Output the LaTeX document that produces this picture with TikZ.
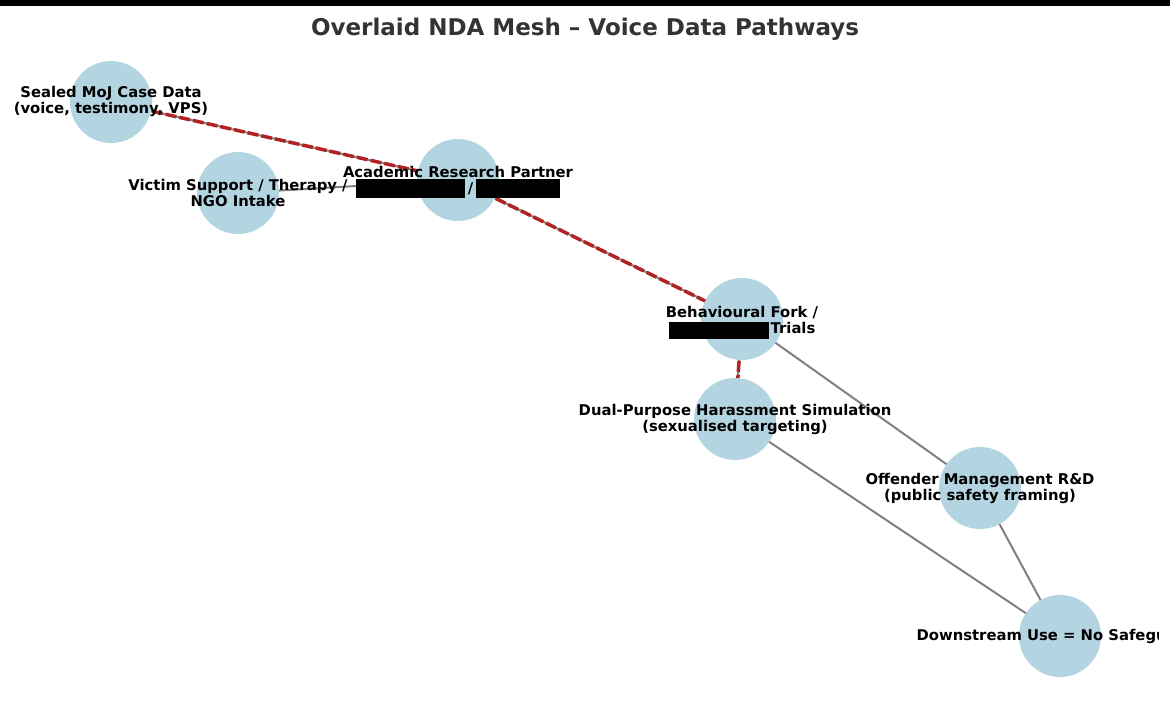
\documentclass[tikz,border=0pt]{standalone}
\usepackage{fontspec}
\setmainfont{DejaVu Sans}
\definecolor{nodeblue}{RGB}{179,213,225}
\definecolor{edgegray}{RGB}{128,128,128}
\definecolor{leakred}{RGB}{178,34,34}
\definecolor{titlegray}{RGB}{51,51,51}
\begin{document}
\begin{tikzpicture}[x=1pt, y=-1pt,
  party/.style={circle, fill=nodeblue, minimum size=82pt, inner sep=0pt},
  tag/.style={align=center, font=\fontsize{14.8}{16}\selectfont\bfseries, inner sep=0pt},
  plain/.style={draw=edgegray, line width=2pt},
  leak/.style={draw=leakred, line width=3.5pt, dash pattern=on 11pt off 3pt}]
\useasboundingbox (0,0) rectangle (1170,703);
\fill[black] (0,0) rectangle (1170,6);
\node[font=\fontsize{23}{27}\selectfont\bfseries, text=titlegray] (title) at (585,29.5) {Overlaid NDA Mesh -- Voice Data Pathways};
% edges
\draw[plain] (111,102) coordinate (pSealed) -- (458,180) coordinate (pAcad);
\draw[plain] (238,193) coordinate (pVictim) -- (pAcad);
\draw[plain] (pAcad) -- (742,319) coordinate (pFork);
\draw[plain] (pFork) -- (735,419) coordinate (pDual);
\draw[plain] (pFork) -- (980,488) coordinate (pOffender);
\draw[plain] (pDual) -- (1060,636) coordinate (pDown);
\draw[plain] (pOffender) -- (pDown);
\draw[leak] (pSealed) -- (pAcad);
\draw[leak] (pAcad) -- (pFork);
\draw[leak] (pFork) -- (pDual);
% nodes
\node[party] (sealed) at (pSealed) {};
\node[party] (victim) at (pVictim) {};
\node[party] (acad) at (pAcad) {};
\node[party] (fork) at (pFork) {};
\node[party] (dual) at (pDual) {};
\node[party] (offender) at (pOffender) {};
\node[party] (down) at (pDown) {};
% labels
\begin{scope}
\clip (0,0) rectangle (1158,703);
\node[tag] (sealedTag) at ([yshift=1pt]sealed) {Sealed MoJ Case Data\\(voice, testimony, VPS)};
\node[tag] (victimTag) at (victim) {Victim Support / Therapy /\\NGO Intake};
\node[tag] (acadTag) at ([yshift=-1pt]acad) {Academic Research Partner\\\smash{\rule[-4pt]{109pt}{19pt}}\hspace{3pt}/\hspace{3pt}\smash{\rule[-4pt]{84pt}{19pt}}};
\node[tag] (forkTag) at ([yshift=-1pt]fork) {Behavioural Fork /\\\smash{\rule[-5pt]{100pt}{17pt}}\hspace{2pt}Trials};
\node[tag] (dualTag) at (dual) {Dual-Purpose Harassment Simulation\\(sexualised targeting)};
\node[tag] (offenderTag) at (offender) {Offender Management R\&D\\(public safety framing)};
\node[tag] (downTag) at (down) {Downstream Use = No Safeguards};
\end{scope}
\end{tikzpicture}
\end{document}
